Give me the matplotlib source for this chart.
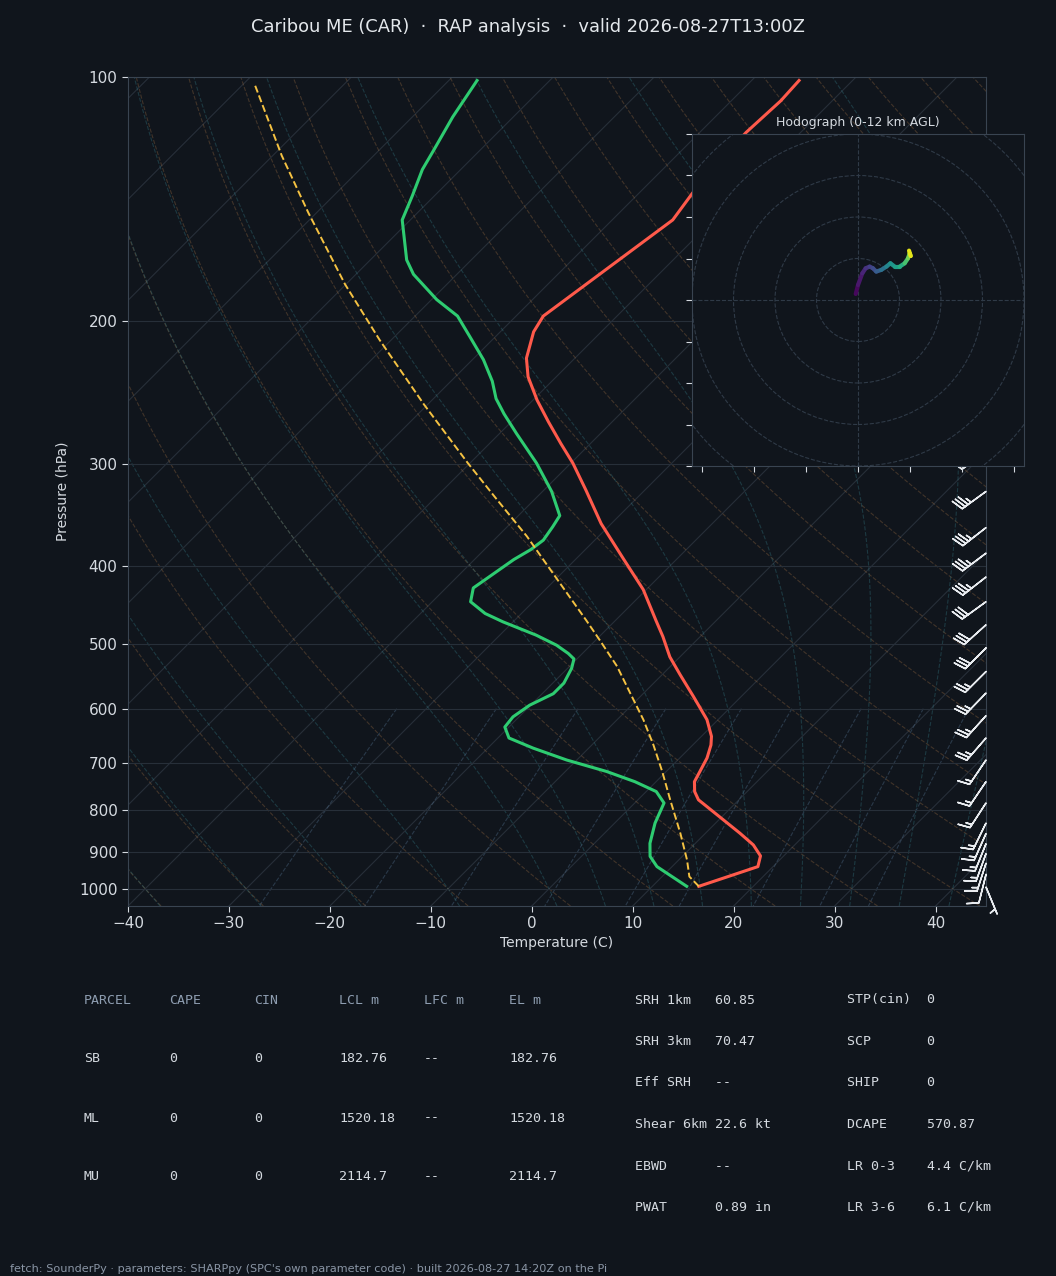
import numpy as np
import matplotlib
matplotlib.use('Agg')
import matplotlib.pyplot as plt
import matplotlib.transforms as mtransforms
from matplotlib.collections import LineCollection
from matplotlib.patches import Circle
from matplotlib.ticker import FixedLocator, NullLocator, MultipleLocator, ScalarFormatter

# ---- sounding (hPa / degC) ----
temp_p = [993, 939, 911, 883, 854, 792, 777, 759, 738, 720, 690, 665, 649, 619, 580,
          545, 518, 489, 467, 428, 393, 355, 323, 299, 283, 266, 250, 234, 222, 206,
          197, 150, 139, 128, 117, 107, 101]
temp_t = [14.6, 18.5, 17.7, 15.9, 13.4, 7.5, 6.0, 4.8, 3.8, 3.4, 2.7, 1.8, 1.0, -1.1, -4.7,
          -8.2, -11.0, -13.7, -16.0, -20.3, -25.2, -31.0, -35.8, -39.8, -42.9, -46.3, -49.6,
          -52.8, -54.8, -56.7, -57.3, -54.0, -54.7, -55.2, -55.4, -55.1, -55.3]

dewp_p = [993, 939, 912, 879, 830, 784, 759, 738, 717, 694, 671, 652, 632, 614, 594,
          575, 558, 535, 521, 513, 501, 487, 469, 458, 443, 426, 412, 393, 382, 372,
          358, 347, 324, 299, 275, 260, 249, 237, 223, 209, 197, 188, 175, 168, 150,
          140, 130, 123, 112, 101]
dewp_t = [13.4, 8.5, 6.8, 5.5, 4.0, 2.9, 1.0, -2.1, -5.9, -11.0, -15.5, -18.9, -20.4, -20.6, -20.1,
          -18.9, -18.9, -19.6, -20.3, -21.4, -23.4, -26.4, -31.0, -33.6, -36.2, -37.3, -36.8, -36.1,
          -35.4, -35.1, -35.5, -35.9, -39.1, -43.4, -48.3, -51.5, -53.8, -55.9, -58.9, -62.5, -65.8,
          -69.5, -74.3, -76.4, -80.8, -82.2, -83.8, -84.6, -86.0, -87.2]

parcel_p = [993, 966, 921, 854, 777, 717, 665, 619, 580, 532, 494, 467, 416, 368, 329,
            299, 253, 211, 180, 147, 125, 102]
parcel_t = [14.6, 12.7, 10.8, 7.5, 3.2, -0.4, -3.9, -7.4, -10.8, -15.3, -19.6, -22.9, -29.8,
            -37.1, -44.2, -50.2, -60.4, -71.1, -80.1, -90.8, -99.1, -108.9]

# wind barbs (hPa, kt)
barb_p = [290, 324, 359, 386, 413, 443, 473, 505, 540, 574, 612, 652, 694, 738, 784,
          830, 855, 880, 905, 930, 960, 995]
barb_u = [28.7, 28.3, 27.6, 28.0, 27.6, 24.3, 22.3, 21.2, 17.7, 17.4, 16.7, 16.4, 8.4, 8.4, 8.2,
          6.6, 6.1, 5.6, 5.1, 4.6, 2.9, -1.9]
barb_v = [20.1, 20.6, 21.5, 21.1, 21.5, 17.6, 20.1, 21.2, 17.7, 18.0, 18.6, 18.9, 12.4, 12.4, 12.6,
          13.5, 13.7, 13.9, 14.1, 14.3, 11.6, 4.6]

# hodograph (kt) and height AGL (km)
hodo_u = [-1.1, 0.0, 2.1, 3.7, 5.6, 7.2, 8.8, 11.2, 13.7, 15.6, 17.7, 20.1, 22.5, 24.1, 24.9, 25.4, 24.6]
hodo_v = [2.9, 7.2, 12.9, 15.3, 16.1, 15.3, 13.7, 14.5, 16.1, 17.7, 16.1, 16.1, 17.7, 20.1, 22.5, 21.2, 23.8]
hodo_h = [0, 0.5, 1, 1.5, 2, 2.5, 3, 4, 5, 6, 6.5, 7, 8, 9, 10, 11, 12]

# parameter tables
parcel_header = ['PARCEL', 'CAPE', 'CIN', 'LCL m', 'LFC m', 'EL m']
parcel_names = ['SB', 'ML', 'MU']
parcel_cape = ['0', '0', '0']
parcel_cin = ['0', '0', '0']
parcel_lcl = ['182.76', '1520.18', '2114.7']
parcel_lfc = ['--', '--', '--']
parcel_el = ['182.76', '1520.18', '2114.7']

kin_labels = ['SRH 1km', 'SRH 3km', 'Eff SRH', 'Shear 6km', 'EBWD', 'PWAT']
kin_values = ['60.85', '70.47', '--', '22.6 kt', '--', '0.89 in']
comp_labels = ['STP(cin)', 'SCP', 'SHIP', 'DCAPE', 'LR 0-3', 'LR 3-6']
comp_values = ['0', '0', '0', '570.87', '4.4 C/km', '6.1 C/km']

BG = '#10151c'
GRID = '#272f39'
SPINE = '#394451'
TXT = '#d5dae0'
HEAD = '#8e9db0'

W, H = 1056, 1276
fig = plt.figure(figsize=(W / 100, H / 100), dpi=100, facecolor=BG)


def fx(x):
    return x / W


def fy(y):
    return 1 - y / H


# ---- skew-T axes ----
ax = fig.add_axes([fx(128), fy(906), (986 - 128) / W, (906 - 77) / H])
ax.set_facecolor(BG)
ax.set_yscale('log')
ax.set_xlim(-40, 45)
ax.set_ylim(1050, 100)
ax.set_autoscale_on(False)

# 45 degree skew in pixels, done in axes coords
ratio = (906 - 77) / (986 - 128)
skew = ax.transScale + ax.transLimits + mtransforms.Affine2D(
    np.array([[1, ratio, 0], [0, 1, 0], [0, 0, 1]])) + ax.transAxes

p_full = np.logspace(np.log10(1050), 2, 120)

# isotherms
for t in range(-120, 50, 10):
    ax.plot([t, t], [1050, 100], transform=skew, color=GRID, lw=0.8, zorder=1)

# dry adiabats
for th in np.arange(-40, 246, 10):
    tt = (th + 273.15) * (p_full / 1000.0) ** 0.2857 - 273.15
    ax.plot(tt, p_full, transform=skew, color='#b07a48', alpha=0.3, lw=0.8, ls='--', zorder=1)

# moist adiabats
Rd, Cp, Lv, eps = 287.04749, 1004.66, 2.501e6, 0.622


def dtdp(p, T):
    es = 6.112 * np.exp(17.67 * (T - 273.15) / (T - 29.65))
    rs = eps * es / (p - es)
    return (Rd * T + Lv * rs) / (Cp + Lv * Lv * rs * eps / (Rd * T * T)) / p


def moist_line(t0, plevs):
    T = t0 + 273.15
    out = [T]
    for p0, p1 in zip(plevs[:-1], plevs[1:]):
        h = p1 - p0
        k1 = dtdp(p0, T)
        k2 = dtdp(p0 + h / 2, T + h / 2 * k1)
        k3 = dtdp(p0 + h / 2, T + h / 2 * k2)
        k4 = dtdp(p1, T + h * k3)
        T = T + h / 6 * (k1 + 2 * k2 + 2 * k3 + k4)
        out.append(T)
    return np.array(out) - 273.15


p_up = np.logspace(3, 2, 100)
p_dn = np.linspace(1000, 1050, 6)
for t0 in list(range(-40, 0, 10)) + list(range(0, 46, 5)):
    tu = moist_line(t0, p_up)
    td = moist_line(t0, p_dn)
    ax.plot(np.concatenate([td[::-1], tu[1:]]), np.concatenate([p_dn[::-1], p_up[1:]]),
            transform=skew, color='#3a8c98', alpha=0.3, lw=0.8, ls='--', zorder=1)

# mixing ratio lines
p_mix = np.linspace(600, 1050, 40)
for w in [0.0004, 0.001, 0.002, 0.004, 0.007, 0.01, 0.016, 0.024, 0.032]:
    e = p_mix * w / (eps + w)
    lg = np.log(e / 6.112)
    td = 243.5 * lg / (17.67 - lg)
    ax.plot(td, p_mix, transform=skew, color='#5a7c9c', alpha=0.35, lw=0.8, ls='--', zorder=1)

# profiles
ax.plot(temp_t, temp_p, transform=skew, color='#ff5a4b', lw=2.2, zorder=4)
ax.plot(dewp_t, dewp_p, transform=skew, color='#2ecc71', lw=2.2, zorder=4)
ax.plot(parcel_t, parcel_p, transform=skew, color='#f5c242', lw=1.4, ls='--', zorder=4)

# barbs on the right edge
barb_tr = mtransforms.blended_transform_factory(ax.transAxes, ax.transData)
ax.barbs(np.ones(len(barb_p)), barb_p, barb_u, barb_v, transform=barb_tr,
         clip_on=False, length=6.5, color='#e8ebef', linewidth=1.1, zorder=5)

ax.set_xticks(range(-40, 41, 10))
ax.yaxis.set_major_locator(FixedLocator([100, 200, 300, 400, 500, 600, 700, 800, 900, 1000]))
ax.yaxis.set_major_formatter(ScalarFormatter())
ax.yaxis.set_minor_locator(NullLocator())
ax.grid(axis='y', color=GRID, lw=0.8)
ax.tick_params(colors=TXT, labelsize=11, length=4)
for s in ax.spines.values():
    s.set_color(SPINE)
ax.set_xlabel('Temperature (C)', color=TXT, fontsize=10)
ax.set_ylabel('Pressure (hPa)', color=TXT, fontsize=10)
ax.xaxis.set_label_coords(0.5, -0.036)
ax.yaxis.set_label_coords(-0.068, 0.5)

# ---- hodograph inset ----
hax = fig.add_axes([fx(692), fy(466), 332 / W, 332 / H])
hax.set_facecolor(BG)
hax.set_xlim(-80, 80)
hax.set_ylim(-80, 80)
for r in (20, 40, 60, 80, 100):
    hax.add_patch(Circle((0, 0), r, fill=False, ls='--', lw=0.8, color='#2f3a47'))
hax.axhline(0, ls='--', lw=0.8, color='#2f3a47')
hax.axvline(0, ls='--', lw=0.8, color='#2f3a47')
pts = np.column_stack([hodo_u, hodo_v])
segs = np.stack([pts[:-1], pts[1:]], axis=1)
hh = np.array(hodo_h)
lc = LineCollection(segs, cmap='viridis', norm=plt.Normalize(0, 12), linewidths=3, capstyle='round')
lc.set_array((hh[:-1] + hh[1:]) / 2)
hax.add_collection(lc)
hax.xaxis.set_major_locator(MultipleLocator(25))
hax.yaxis.set_major_locator(MultipleLocator(20))
hax.tick_params(labelbottom=False, labelleft=False, colors=TXT, length=4)
for s in hax.spines.values():
    s.set_color(SPINE)
hax.set_title('Hodograph (0-12 km AGL)', color=TXT, fontsize=9, pad=6)

# ---- title / tables / footer ----
fig.text(0.5, fy(27), 'Caribou ME (CAR)  \u00b7  RAP analysis  \u00b7  valid 2026-08-27T13:00Z',
         ha='center', va='center', color='#e4e8ec', fontsize=12.9)

col_x = [84, 169, 254, 339, 424, 509]
row_y = [1059, 1118, 1177]
mono = 'DejaVu Sans Mono'
for cx, h in zip(col_x, parcel_header):
    fig.text(fx(cx), fy(1000), h, color=HEAD, fontsize=9.5, family=mono, va='center')
cols = [parcel_names, parcel_cape, parcel_cin, parcel_lcl, parcel_lfc, parcel_el]
for cx, col in zip(col_x, cols):
    for ry, val in zip(row_y, col):
        fig.text(fx(cx), fy(ry), val, color=TXT, fontsize=9.5, family=mono, va='center')

right_y = [1000, 1041.5, 1083, 1124.5, 1166, 1207.5]
for ry, lab, val in zip(right_y, kin_labels, kin_values):
    fig.text(fx(635), fy(ry), f'{lab:<10}{val}', color=TXT, fontsize=9.5, family=mono, va='center')
for ry, lab, val in zip(right_y, comp_labels, comp_values):
    fig.text(fx(847), fy(ry), f'{lab:<10}{val}', color=TXT, fontsize=9.5, family=mono, va='center')

fig.text(fx(10), fy(1269), "fetch: SounderPy \u00b7 parameters: SHARPpy (SPC's own parameter code) \u00b7 "
         "built 2026-08-27 14:20Z on the Pi", color='#8a95a5', fontsize=8.15, va='center')

fig.savefig('out.png', dpi=100, facecolor=BG)
